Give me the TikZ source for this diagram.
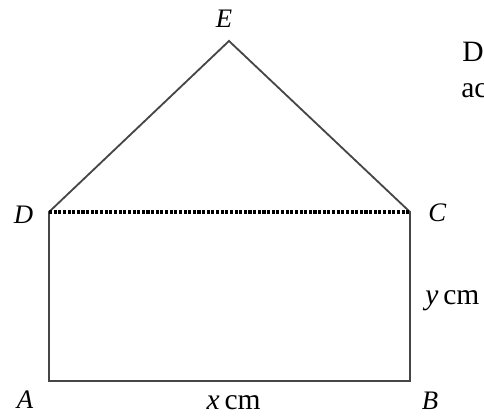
\documentclass[tikz,border=0pt]{standalone}
\usepackage{fontspec}
\setmainfont{Liberation Serif}
\usepackage{tikz}
\usetikzlibrary{positioning, calc}
\definecolor{edgegray}{RGB}{70,70,70}

\tikzset{
  side/.style={line width=1.3pt, edgegray},
  hidden/.style={line width=2.2pt, black, dash pattern=on 2.2pt off 1.1pt},
  vlabel/.style={font=\fontsize{19}{23}\selectfont\itshape},
  dimlabel/.style={font=\fontsize{21}{25}\selectfont},
  cuttext/.style={font=\fontsize{21}{25}\selectfont, anchor=base west, inner sep=0pt}
}

\begin{document}
\begin{tikzpicture}
  \useasboundingbox (0,0) rectangle (12.1,10.4);
  % Corners
  \coordinate (A) at (1.225, 0.875);
  \coordinate (B) at (10.25, 0.875);
  \coordinate (C) at (10.25, 5.1);
  \coordinate (D) at (1.225, 5.1);
  \coordinate (E) at (5.725, 9.375);
  % Outline
  \draw[side, line join=miter] (D) -- (A) -- (B) -- (C) -- (E) -- cycle;
  \draw[hidden] (D) -- (C);
  % Vertex labels
  \node[vlabel] (labE) at (5.6, 9.925) {E};
  \node[vlabel] (labD) at (0.59, 5.03) {D};
  \node[vlabel] (labC) at (10.93, 5.09) {C};
  \node[vlabel] (labA) at (0.625, 0.4) {A};
  \node[vlabel] (labB) at (10.75, 0.375) {B};
  % Lengths
  \node[dimlabel, anchor=base] (labx) at (5.84, 0.15) {\textit{x}\,cm};
  \node[dimlabel, anchor=base west, inner sep=0pt] (laby) at (10.625, 2.775) {\textit{y}\,cm};
  % Cut-off text
  \node[cuttext] (txt1) at (11.55, 8.85) {D};
  \node[cuttext] (txt2) at (11.525, 7.95) {ac};
\end{tikzpicture}
\end{document}
